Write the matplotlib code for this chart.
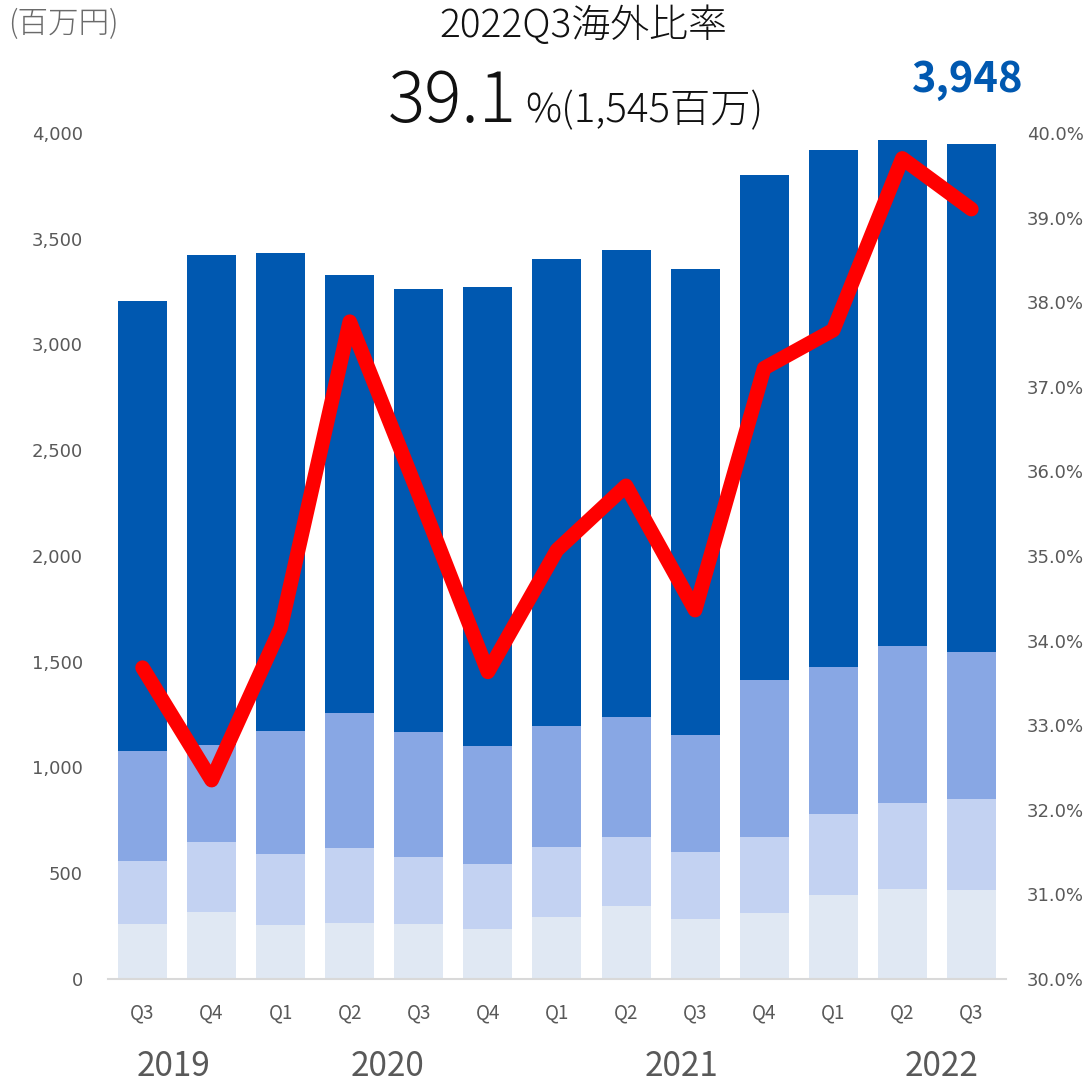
import matplotlib
matplotlib.use("Agg")
import matplotlib.pyplot as plt
import matplotlib.transforms as mtransforms
from matplotlib.ticker import FuncFormatter, MultipleLocator

# ---- data ----
quarters = ["Q3", "Q4", "Q1", "Q2", "Q3", "Q4", "Q1", "Q2", "Q3", "Q4", "Q1", "Q2", "Q3"]
years = ["2019", "2020", "2021", "2022"]
year_pos = [0.45, 3.54, 7.81, 11.57]

seg1 = [261, 318, 255, 265, 261, 236, 295, 347, 282, 314, 399, 424, 419]      # lightest (bottom)
seg2 = [297, 328, 336, 354, 316, 306, 328, 323, 318, 357, 380, 408, 432]      # light
seg3 = [521, 460, 580, 637, 589, 558, 572, 567, 554, 743, 698, 742, 694]      # medium
totals = [3206, 3423, 3433, 3329, 3262, 3272, 3404, 3447, 3357, 3801, 3920, 3967, 3948]
ratio = [33.68, 32.35, 34.15, 37.77, 35.72, 33.63, 35.07, 35.83, 34.36, 37.22, 37.67, 39.70, 39.10]

seg4 = [t - a - b - c for t, a, b, c in zip(totals, seg1, seg2, seg3)]     # domestic (top)

colors = ["#E0E8F3", "#C3D2F2", "#88A7E4", "#0058B0"]
gray = "#595959"
jp = ["Noto Sans CJK JP", "DejaVu Sans"]

fig = plt.figure(figsize=(10.91, 10.84), dpi=100)
ax = fig.add_axes([0.099, 0.0969, 0.823, 0.7804])
x = list(range(len(quarters)))

bottom = [0] * len(x)
for seg, c in zip([seg1, seg2, seg3, seg4], colors):
    ax.bar(x, seg, bottom=bottom, width=0.71, color=c, zorder=2)
    bottom = [b + s for b, s in zip(bottom, seg)]

ax.set_xlim(-0.5, 12.5)
ax.set_ylim(0, 4000)
ax.yaxis.set_major_locator(MultipleLocator(500))
ax.yaxis.set_major_formatter(FuncFormatter(lambda v, p: f"{int(v):,}"))
ax.tick_params(axis="y", length=0, pad=18, labelsize=13, labelcolor=gray)
for s in ["top", "right", "left"]:
    ax.spines[s].set_visible(False)
ax.spines["bottom"].set_color("#D9D9D9")
ax.spines["bottom"].set_linewidth(1.5)
ax.set_xticks(x)
ax.set_xticklabels(quarters, fontfamily=jp, fontsize=13.5, color=gray)
ax.tick_params(axis="x", length=0, pad=17)

trans = mtransforms.blended_transform_factory(ax.transData, fig.transFigure)
for yr, xp in zip(years, year_pos):
    ax.text(xp, 1 - 1066 / 1084, yr, transform=trans, ha="center", va="center",
            fontsize=24, color=gray, fontfamily=jp)

ax2 = ax.twinx()
ax2.set_ylim(30, 40)
ax2.yaxis.set_major_locator(MultipleLocator(1))
ax2.yaxis.set_major_formatter(FuncFormatter(lambda v, p: f"{v:.1f}%"))
ax2.tick_params(axis="y", length=0, pad=15, labelsize=13, labelcolor=gray)
for s in ["top", "right", "left", "bottom"]:
    ax2.spines[s].set_visible(False)
ax2.plot(x, ratio, color="#FF0000", lw=10.5, solid_capstyle="round",
         solid_joinstyle="round", zorder=5)

# ---- header texts ----
fig.text(8 / 1091, 1 - 24 / 1084, "(百万円)", ha="left", va="center",
         fontsize=22, color="#6a6a6a", fontfamily=jp, fontweight="light")
fig.text(583 / 1091, 1 - 26 / 1084, "2022Q3海外比率", ha="center", va="center",
         fontsize=28, color="#111111", fontfamily=jp, fontweight="light")
fig.text(517 / 1091, 1 - 122 / 1084, "39.1", ha="right", va="baseline",
         fontsize=50, color="#111111", fontfamily=jp, fontweight="light")
fig.text(525 / 1091, 1 - 122 / 1084, "%(1,545百万)", ha="left", va="baseline",
         fontsize=29, color="#111111", fontfamily=jp, fontweight="light")
fig.text(968 / 1091, 1 - 80 / 1084, "3,948", ha="center", va="center",
         fontsize=30, color="#0058B0", fontweight="bold", fontfamily=jp)

fig.savefig("out.png", dpi=100)
